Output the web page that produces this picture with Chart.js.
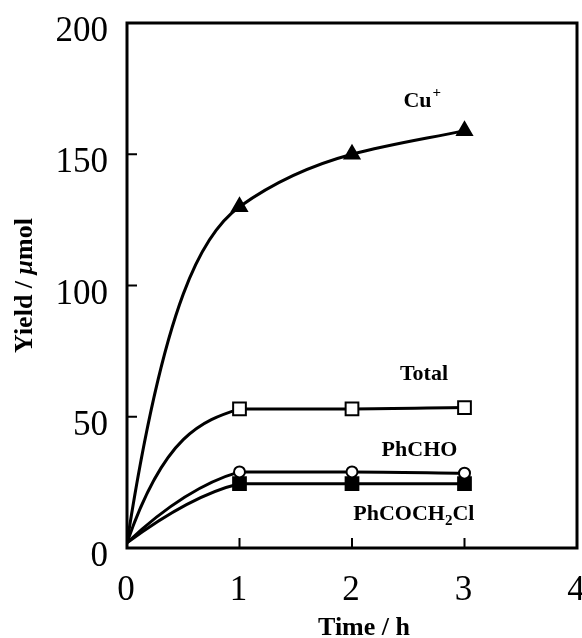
<!DOCTYPE html>
<html lang="en">
<head>
<meta charset="UTF-8">
<title>Yield vs Time</title>
<script src="https://cdn.jsdelivr.net/npm/chart.js@4"></script>
<style>
    html, body { margin: 0; padding: 0; background: #fff; }
    #wrap { width: 582px; height: 638px; position: relative; }
</style>
</head>
<body>
<div id="wrap"><canvas id="yieldChart"></canvas></div>
<script>
// data
const timeH      = [0, 1, 2, 3];
const cuPlus     = [2, 130, 150, 159];
const total      = [2, 53, 53, 53.5];
const phCHO      = [2, 29, 29, 28.5];
const phCOCH2Cl  = [2, 24.5, 24.5, 24.5];
const xTickVals  = [0, 1, 2, 3, 4];
const yTickVals  = [0, 50, 100, 150, 200];

// curve labels, anchored in data units
const curveLabels = [
    { x: 2.62, y: 170, parts: [{ t: 'Cu' }, { t: '+', sup: true }] },
    { x: 2.64, y: 66.3, parts: [{ t: 'Total' }] },
    { x: 2.60, y: 37.3, parts: [{ t: 'PhCHO' }] },
    { x: 2.55, y: 13, parts: [{ t: 'PhCOCH' }, { t: '2', sub: true }, { t: 'Cl' }] }
];

const SERIF = '"Liberation Serif", "Times New Roman", serif';

function toXY(ys) {
    return timeH.map((t, i) => ({ x: t, y: ys[i] }));
}

// rise / settle / carry shape the fitted curve around the first point
function series(ys, style, fill, radius, rise, settle, carry) {
    return {
        data: toXY(ys),
        borderColor: '#000',
        borderWidth: 3,
        pointStyle: style,
        pointRadius: [0, radius, radius, radius],
        pointBorderWidth: 2,
        pointBackgroundColor: fill,
        pointBorderColor: '#000',
        cubicInterpolationMode: 'monotone',
        fill: false,
        rise: rise,
        settle: settle,
        carry: carry
    };
}

function drawRich(ctx, parts, cx, cy) {
    const big = 'bold 22px ' + SERIF;
    const small = 'bold 15px ' + SERIF;
    let w = 0;
    parts.forEach(p => {
        ctx.font = (p.sub || p.sup) ? small : big;
        w += ctx.measureText(p.t).width;
    });
    let x = cx - w / 2;
    ctx.textBaseline = 'middle';
    ctx.textAlign = 'left';
    parts.forEach(p => {
        ctx.font = (p.sub || p.sup) ? small : big;
        let dy = 0;
        if (p.sub) dy = 7;
        if (p.sup) dy = -9;
        ctx.fillText(p.t, x + (p.sup ? 1 : 0), cy + dy);
        x += ctx.measureText(p.t).width;
    });
}

// bend the first segment like a saturating fit curve
const curveShape = {
    id: 'curveShape',
    beforeDatasetDraw(chart, args) {
        const meta = args.meta;
        const ds = chart.data.datasets[args.index];
        const line = meta.dataset;
        line.updateControlPoints(chart.chartArea, 'x');
        const pts = meta.data;
        const p0 = pts[0], p1 = pts[1];
        const dx = (p1.x - p0.x) / 3;
        const dy = p1.y - p0.y;
        p0.cp2x = p0.x + dx;
        p0.cp2y = p0.y + ds.rise * dy;
        p1.cp1x = p1.x - dx;
        p1.cp1y = p1.y - ds.settle * dy;
        if (ds.carry) {
            p1.cp2x = p1.x + dx;
            p1.cp2y = p1.y + ds.carry * dy;
        }
        delete line._path;
    }
};

const framePlugin = {
    id: 'frame',
    afterDatasetsDraw(chart) {
        const { ctx, chartArea: a, scales } = chart;
        ctx.save();
        ctx.strokeStyle = '#000';
        ctx.fillStyle = '#000';
        ctx.lineWidth = 3;
        ctx.strokeRect(a.left, a.top, a.right - a.left, a.bottom - a.top);

        // inward ticks
        ctx.lineWidth = 2;
        ctx.beginPath();
        xTickVals.slice(1, -1).forEach(v => {
            const px = scales.x.getPixelForValue(v);
            ctx.moveTo(px, a.bottom);
            ctx.lineTo(px, a.bottom - 10);
        });
        yTickVals.slice(1, -1).forEach(v => {
            const py = scales.y.getPixelForValue(v);
            ctx.moveTo(a.left, py);
            ctx.lineTo(a.left + 10, py);
        });
        ctx.stroke();

        // tick labels
        ctx.font = '35px ' + SERIF;
        ctx.textBaseline = 'alphabetic';
        ctx.textAlign = 'right';
        yTickVals.forEach(v => {
            ctx.fillText(String(v), a.left - 19, scales.y.getPixelForValue(v) + 18);
        });
        ctx.textAlign = 'center';
        xTickVals.forEach(v => {
            ctx.fillText(String(v), scales.x.getPixelForValue(v) - 1, a.bottom + 52);
        });

        // curve labels
        curveLabels.forEach(l => {
            drawRich(ctx, l.parts, scales.x.getPixelForValue(l.x), scales.y.getPixelForValue(l.y));
        });

        // axis titles
        ctx.font = 'bold 26px ' + SERIF;
        ctx.textAlign = 'center';
        ctx.textBaseline = 'alphabetic';
        ctx.fillText('Time / h', (a.left + a.right) / 2 + 12, 635);

        ctx.translate(32, (a.top + a.bottom) / 2);
        ctx.rotate(-Math.PI / 2);
        const pieces = [
            { t: 'Yield / ', f: 'bold 26px ' + SERIF },
            { t: '\u03bc', f: 'italic bold 26px ' + SERIF },
            { t: 'mol', f: 'bold 26px ' + SERIF }
        ];
        let tw = 0;
        pieces.forEach(p => { ctx.font = p.f; tw += ctx.measureText(p.t).width; });
        let x = -tw / 2;
        ctx.textAlign = 'left';
        pieces.forEach(p => {
            ctx.font = p.f;
            ctx.fillText(p.t, x, 0);
            x += ctx.measureText(p.t).width;
        });
        ctx.restore();
    }
};

new Chart(document.getElementById('yieldChart'), {
    type: 'line',
    data: {
        datasets: [
            series(cuPlus, 'triangle', '#000', 8.5, 0.72, 0.08, 0.08),
            series(total, 'rect', '#fff', 9, 0.81, 0.09, 0),
            series(phCHO, 'circle', '#fff', 5.5, 0.5, 0.15, 0),
            series(phCOCH2Cl, 'rect', '#000', 9, 0.47, 0.15, 0)
        ]
    },
    options: {
        responsive: true,
        maintainAspectRatio: false,
        animation: false,
        layout: { autoPadding: false, padding: { top: 23, right: 5, left: 0, bottom: 0 } },
        plugins: { legend: { display: false }, tooltip: { enabled: false } },
        scales: {
            x: {
                type: 'linear',
                min: 0,
                max: 4,
                afterBuildTicks: s => { s.ticks = xTickVals.map(v => ({ value: v })); },
                afterFit: s => { s.height = 90; },
                grid: { display: false, drawTicks: false },
                border: { display: false },
                ticks: { display: false }
            },
            y: {
                min: 0,
                max: 200,
                afterBuildTicks: s => { s.ticks = yTickVals.map(v => ({ value: v })); },
                afterFit: s => { s.width = 127; },
                grid: { display: false, drawTicks: false },
                border: { display: false },
                ticks: { display: false }
            }
        }
    },
    plugins: [curveShape, framePlugin]
});
</script>
</body>
</html>
